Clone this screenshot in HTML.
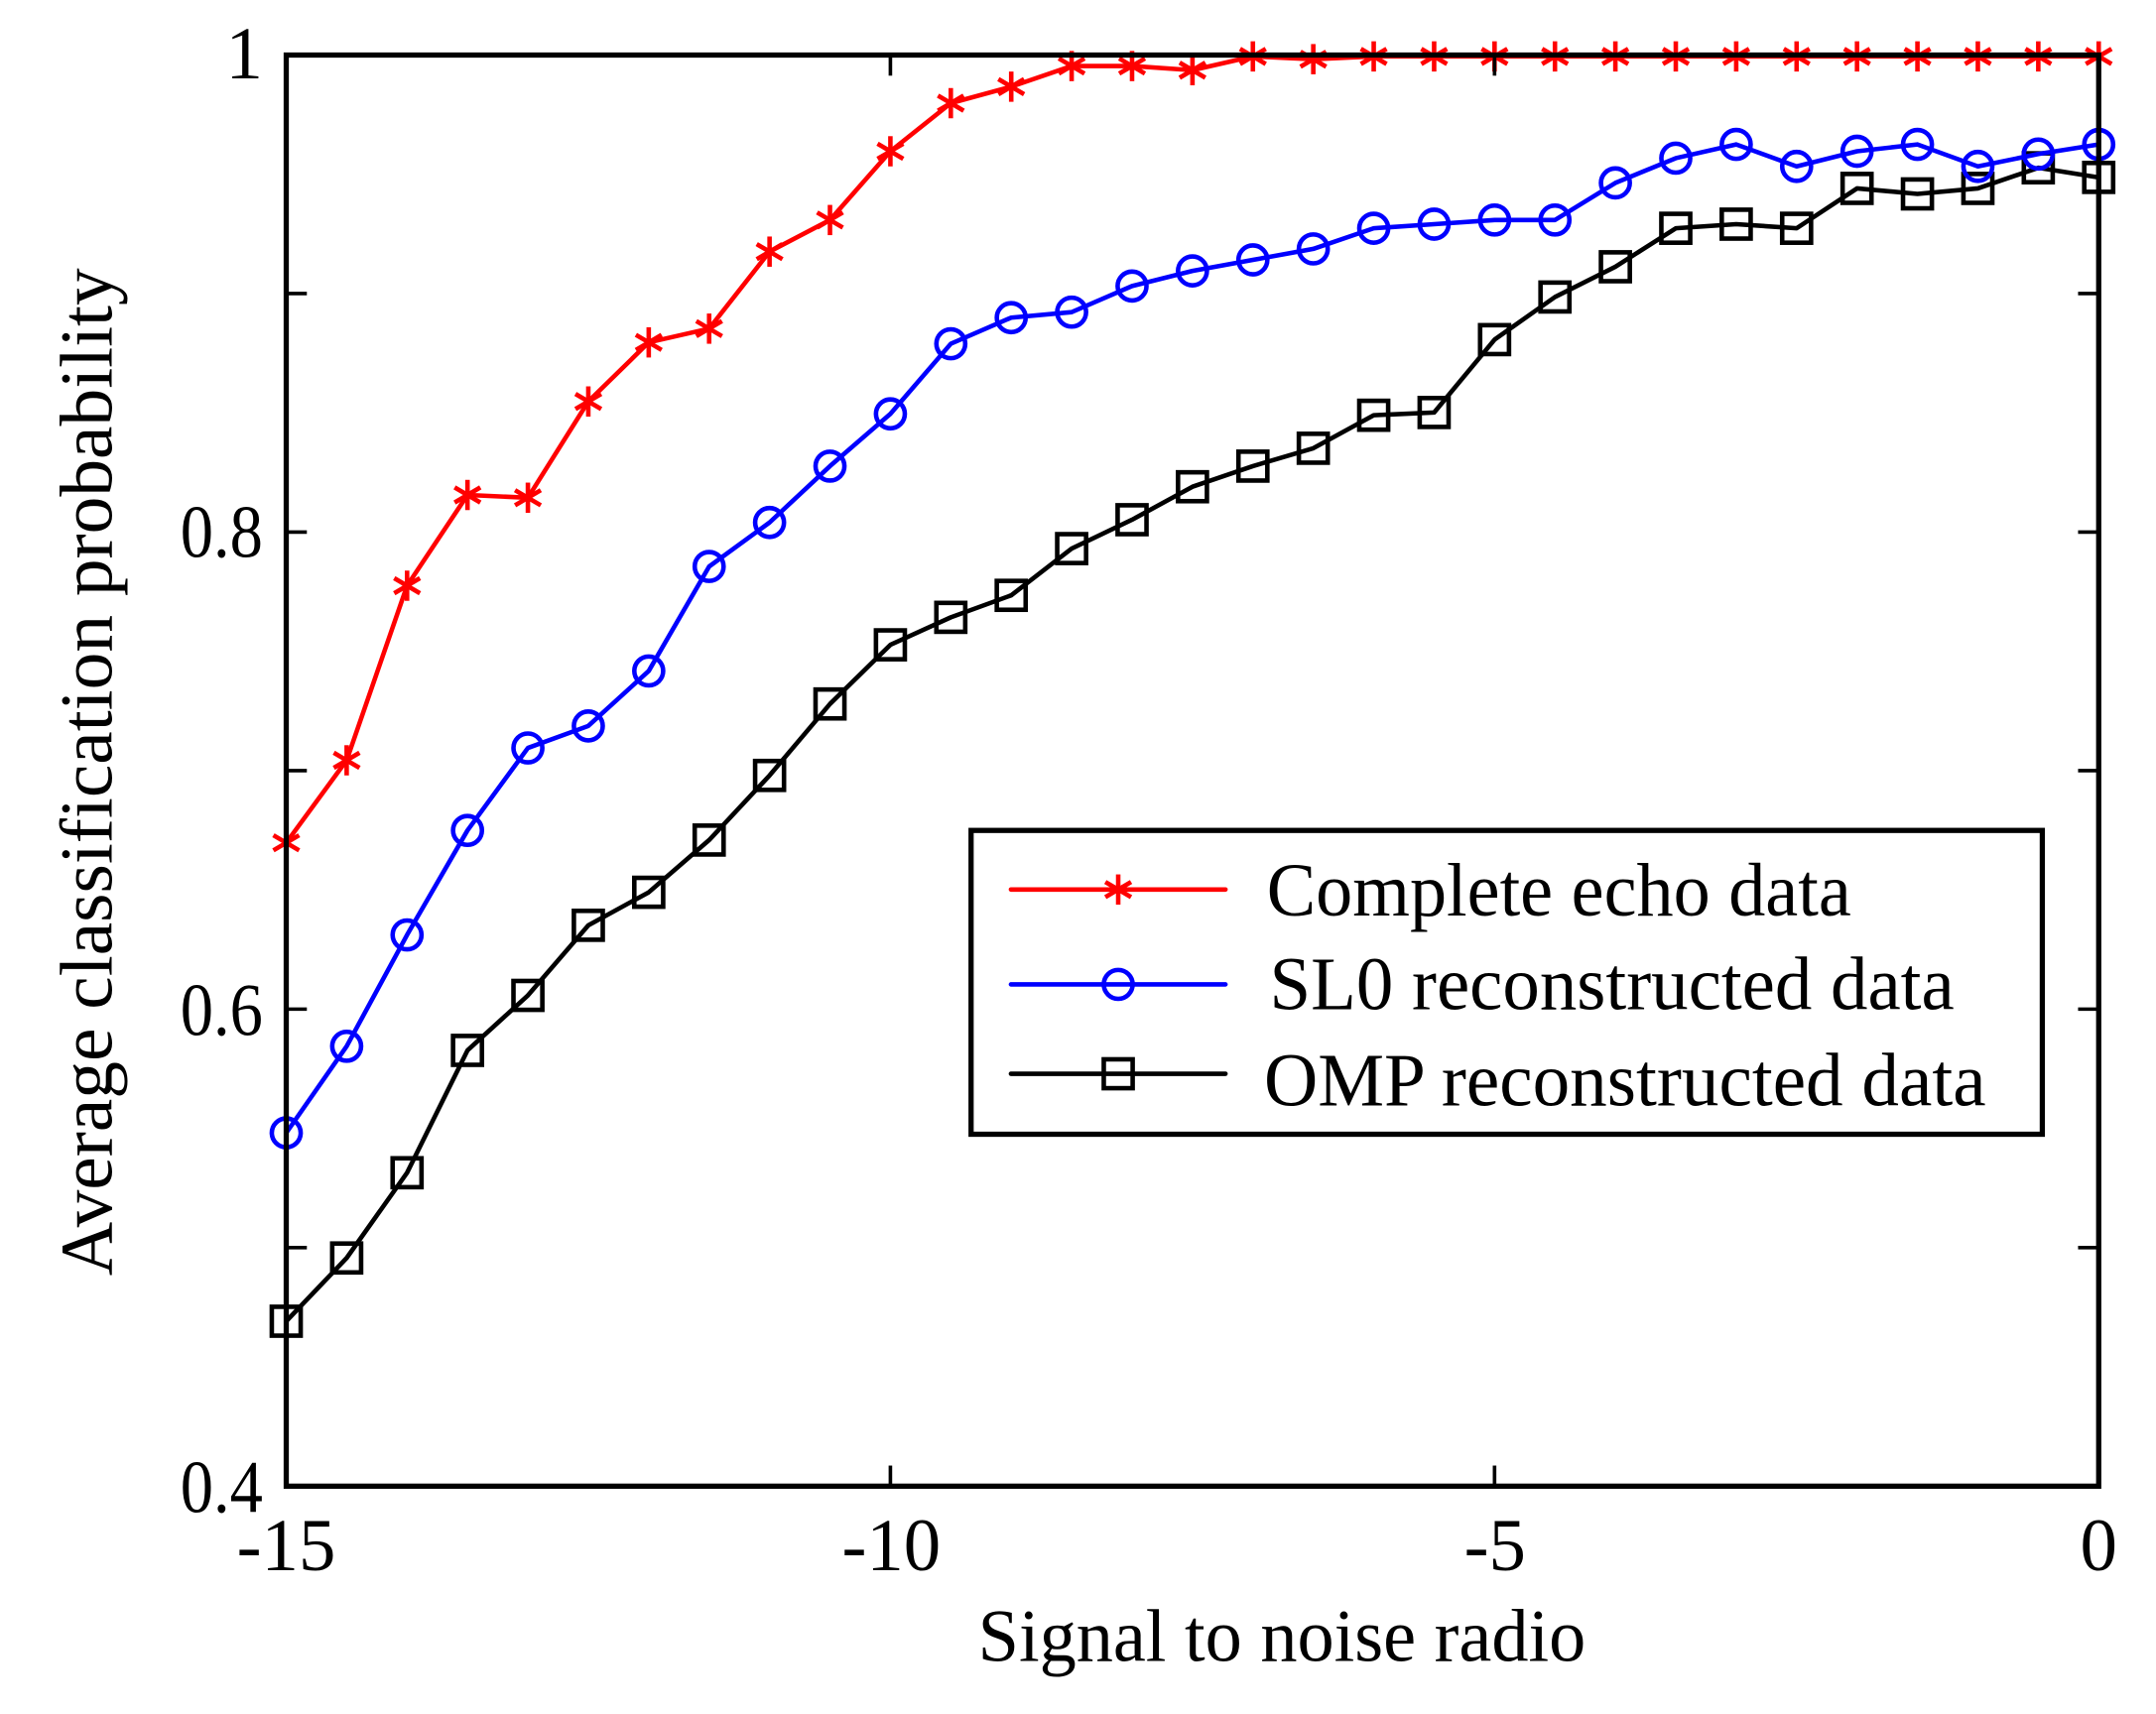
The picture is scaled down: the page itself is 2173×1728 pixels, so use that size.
<!DOCTYPE html>
<html><head><meta charset="utf-8"><style>
html,body{margin:0;padding:0;background:#fff;}
svg{display:block;}
text{font-family:"Liberation Serif",serif;fill:#000;}
</style></head><body>
<svg id="s" width="2173" height="1728" xmlns="http://www.w3.org/2000/svg">
<g transform="translate(1.6,0.06) scale(1.386)">
<g id="plot"></g>
<rect x="207" y="40" width="1318" height="1041" fill="none" stroke="#000" stroke-width="3.8"/>
<g id="ticks" stroke="#000" stroke-width="2.6"></g>
<g font-size="54" text-anchor="end">
<text x="190" y="57">1</text>
<text x="190" y="405" textLength="60" lengthAdjust="spacingAndGlyphs">0.8</text>
<text x="190" y="753" textLength="60" lengthAdjust="spacingAndGlyphs">0.6</text>
<text x="190" y="1100" textLength="60" lengthAdjust="spacingAndGlyphs">0.4</text>
</g>
<g font-size="54" text-anchor="middle">
<text x="207" y="1142">-15</text>
<text x="647" y="1142">-10</text>
<text x="1086" y="1142">-5</text>
<text x="1525" y="1142">0</text>
</g>
<text x="710" y="1208" font-size="54" textLength="442" lengthAdjust="spacingAndGlyphs">Signal to noise radio</text>
<text transform="translate(80,928) rotate(-90)" font-size="54" textLength="733" lengthAdjust="spacingAndGlyphs">Average classification probability</text>
<rect x="705" y="604" width="779" height="221" fill="#fff" stroke="#000" stroke-width="3.8"/>
<g id="leg"></g>
<g font-size="55">
<text x="920" y="666" textLength="425" lengthAdjust="spacingAndGlyphs">Complete echo data</text>
<text x="922" y="734" textLength="498" lengthAdjust="spacingAndGlyphs">SL0 reconstructed data</text>
<text x="918" y="804" textLength="525" lengthAdjust="spacingAndGlyphs">OMP reconstructed data</text>
</g>
</g>
</svg>
<script>
var NS="http://www.w3.org/2000/svg";
function el(p,t,a){var e=document.createElementNS(NS,t);for(var k in a)e.setAttribute(k,a[k]);p.appendChild(e);return e;}
var red=[613,553,426,360,362,292,249,239,183,160,110,75,63,48,48,51,41,43,41,41,41,41,41,41,41,41,41,41,41,41,41];
var blue=[824,761,680,604,544,528,488,412,380,339,301,250,231,227,208,197,189,181,166,163,160,160,133,115,105,121,110,105,121,112,105];
var blk=[961,915,853,764,724,673,649,611,564,512,469,449,433,399,378,354,339,326,302,300,247,216,194,166,163,166,137,141,137,122,129];
function X(i){return 207+i*1318/30;}
var W=3.3;
var plot=document.getElementById("plot");
function star(g,x,y,c){var r=11;
 el(g,"line",{x1:x,y1:y-r,x2:x,y2:y+r,stroke:c,"stroke-width":W});
 el(g,"line",{x1:x-r*0.85,y1:y-r*0.5,x2:x+r*0.85,y2:y+r*0.5,stroke:c,"stroke-width":W});
 el(g,"line",{x1:x-r*0.85,y1:y+r*0.5,x2:x+r*0.85,y2:y-r*0.5,stroke:c,"stroke-width":W});}
function circ(g,x,y,c){el(g,"circle",{cx:x,cy:y,r:10.5,fill:"none",stroke:c,"stroke-width":W});}
function sq(g,x,y,c){el(g,"rect",{x:x-10.5,y:y-10.5,width:21,height:21,fill:"none",stroke:c,"stroke-width":W});}
function series(d,c,m){var pts=d.map(function(y,i){return X(i)+","+y;}).join(" ");
 el(plot,"polyline",{points:pts,fill:"none",stroke:c,"stroke-width":W,"stroke-linejoin":"round"});
 d.forEach(function(y,i){m(plot,X(i),y,c);});}
series(blk,"#000",sq);series(blue,"#00f",circ);series(red,"#f00",star);
var tk=document.getElementById("ticks");
for(var k=0;k<=6;k++){var y=40+k*1041/6;
 el(tk,"line",{x1:207,y1:y,x2:222,y2:y});el(tk,"line",{x1:1525,y1:y,x2:1510,y2:y});}
for(var k=0;k<=3;k++){var x=207+k*1318/3;
 el(tk,"line",{x1:x,y1:1081,x2:x,y2:1066});el(tk,"line",{x1:x,y1:40,x2:x,y2:55});}
var leg=document.getElementById("leg");
[[647,"#f00",star],[716,"#00f",circ],[781,"#000",sq]].forEach(function(a){
 el(leg,"line",{x1:734,y1:a[0],x2:890,y2:a[0],stroke:a[1],"stroke-width":W,"stroke-linecap":"round"});
 a[2](leg,812,a[0],a[1]);});
</script>
</body></html>
